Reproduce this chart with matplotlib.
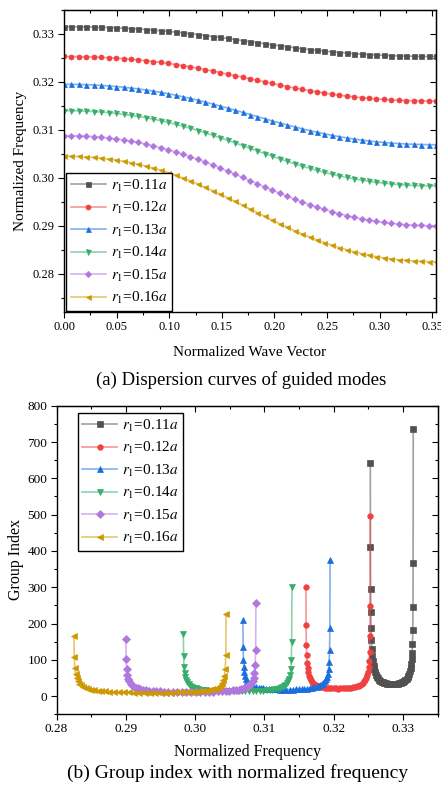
import numpy as np
import matplotlib
matplotlib.use("Agg")
import matplotlib.pyplot as plt
from matplotlib.ticker import MultipleLocator, FormatStrFormatter
from matplotlib.colors import to_rgba

plt.rcParams['font.family'] = 'serif'
plt.rcParams['font.serif'] = ['Liberation Serif', 'DejaVu Serif']
plt.rcParams['mathtext.fontset'] = 'stix'

# ---------------- data ----------------
labels = [r'$r_1$=0.11$a$', r'$r_1$=0.12$a$', r'$r_1$=0.13$a$',
          r'$r_1$=0.14$a$', r'$r_1$=0.15$a$', r'$r_1$=0.16$a$']
colors = ['#515151', '#F14040', '#1A6FDF', '#37AD6B', '#B177DE', '#CC9900']
markers = ['s', 'o', '^', 'v', 'D', '<']

# normalized wave vector (51 points)
wave_vector = [0.0, 0.00707, 0.01414, 0.02121, 0.02828, 0.03536, 0.04243, 0.0495, 0.05657, 0.06364,
               0.07071, 0.07778, 0.08485, 0.09192, 0.09899, 0.10607, 0.11314, 0.12021, 0.12728, 0.13435,
               0.14142, 0.14849, 0.15556, 0.16263, 0.1697, 0.17678, 0.18385, 0.19092, 0.19799, 0.20506,
               0.21213, 0.2192, 0.22627, 0.23334, 0.24042, 0.24749, 0.25456, 0.26163, 0.2687, 0.27577,
               0.28284, 0.28991, 0.29698, 0.30406, 0.31113, 0.3182, 0.32527, 0.33234, 0.33941, 0.34648,
               0.35355]

freq_r11 = [0.33150, 0.33150, 0.33148, 0.33146, 0.33143, 0.33139, 0.33133, 0.33127, 0.33120, 0.33112,
            0.33102, 0.33092, 0.33080, 0.33067, 0.33053, 0.33038, 0.33022, 0.33005, 0.32986, 0.32967,
            0.32947, 0.32927, 0.32906, 0.32884, 0.32862, 0.32840, 0.32818, 0.32796, 0.32774, 0.32753,
            0.32733, 0.32713, 0.32694, 0.32675, 0.32658, 0.32642, 0.32627, 0.32613, 0.32600, 0.32588,
            0.32578, 0.32568, 0.32560, 0.32553, 0.32547, 0.32541, 0.32537, 0.32534, 0.32532, 0.32530,
            0.32530]
freq_r12 = [0.32530, 0.32529, 0.32527, 0.32524, 0.32519, 0.32513, 0.32505, 0.32496, 0.32485, 0.32473,
            0.32459, 0.32443, 0.32425, 0.32406, 0.32385, 0.32362, 0.32338, 0.32312, 0.32285, 0.32256,
            0.32226, 0.32195, 0.32163, 0.32131, 0.32098, 0.32065, 0.32032, 0.31999, 0.31967, 0.31935,
            0.31904, 0.31874, 0.31845, 0.31818, 0.31792, 0.31768, 0.31745, 0.31724, 0.31705, 0.31687,
            0.31671, 0.31657, 0.31645, 0.31634, 0.31625, 0.31617, 0.31611, 0.31606, 0.31603, 0.31601,
            0.31600]
freq_r13 = [0.31950, 0.31949, 0.31946, 0.31942, 0.31935, 0.31927, 0.31916, 0.31904, 0.31889, 0.31872,
            0.31853, 0.31832, 0.31808, 0.31782, 0.31754, 0.31723, 0.31690, 0.31655, 0.31618, 0.31579,
            0.31538, 0.31496, 0.31453, 0.31409, 0.31365, 0.31320, 0.31275, 0.31231, 0.31187, 0.31144,
            0.31102, 0.31061, 0.31022, 0.30985, 0.30950, 0.30917, 0.30886, 0.30858, 0.30832, 0.30808,
            0.30787, 0.30768, 0.30751, 0.30736, 0.30724, 0.30713, 0.30705, 0.30698, 0.30694, 0.30691,
            0.30690]
freq_r14 = [0.31400, 0.31399, 0.31395, 0.31390, 0.31382, 0.31371, 0.31358, 0.31343, 0.31324, 0.31303,
            0.31280, 0.31253, 0.31223, 0.31191, 0.31155, 0.31117, 0.31076, 0.31032, 0.30986, 0.30937,
            0.30887, 0.30835, 0.30781, 0.30726, 0.30671, 0.30615, 0.30559, 0.30504, 0.30449, 0.30395,
            0.30343, 0.30293, 0.30244, 0.30198, 0.30154, 0.30113, 0.30075, 0.30039, 0.30007, 0.29977,
            0.29950, 0.29927, 0.29906, 0.29887, 0.29872, 0.29859, 0.29848, 0.29840, 0.29835, 0.29831,
            0.29830]
freq_r15 = [0.30880, 0.30879, 0.30875, 0.30868, 0.30858, 0.30845, 0.30830, 0.30811, 0.30789, 0.30764,
            0.30736, 0.30704, 0.30668, 0.30629, 0.30587, 0.30541, 0.30492, 0.30440, 0.30384, 0.30326,
            0.30266, 0.30203, 0.30139, 0.30073, 0.30007, 0.29940, 0.29873, 0.29807, 0.29741, 0.29677,
            0.29614, 0.29554, 0.29496, 0.29440, 0.29388, 0.29339, 0.29293, 0.29251, 0.29212, 0.29176,
            0.29144, 0.29116, 0.29091, 0.29069, 0.29050, 0.29035, 0.29022, 0.29012, 0.29005, 0.29001,
            0.29000]
freq_r16 = [0.30450, 0.30448, 0.30444, 0.30436, 0.30424, 0.30410, 0.30391, 0.30370, 0.30344, 0.30315,
            0.30281, 0.30244, 0.30202, 0.30157, 0.30107, 0.30053, 0.29996, 0.29935, 0.29870, 0.29802,
            0.29731, 0.29658, 0.29583, 0.29506, 0.29428, 0.29350, 0.29272, 0.29194, 0.29117, 0.29042,
            0.28969, 0.28898, 0.28830, 0.28765, 0.28704, 0.28647, 0.28593, 0.28543, 0.28498, 0.28456,
            0.28419, 0.28385, 0.28356, 0.28330, 0.28309, 0.28290, 0.28276, 0.28264, 0.28256, 0.28252,
            0.28250]

# group index at the interior k points (points 2..50 of each curve)
ng_r11 = [735, 367.6, 244.4, 182.4, 144.9, 119.7, 101.7, 88.0, 77.5, 69.2, 62.3, 56.7, 52.2, 48.3, 45.1,
          42.5, 40.2, 38.4, 36.9, 35.6, 34.6, 33.9, 33.4, 33.1, 33.0,
          33.1, 33.5, 34.2, 35.2, 36.5, 38.2, 40.3, 42.7, 45.8, 49.4, 53.7, 59.1, 65.8, 73.7, 83.5,
          95.6, 110.8, 130.3, 154.6, 188.0, 230.6, 294.4, 410.0, 641]
ng_r12 = [497, 247.9, 164.3, 122.3, 96.9, 79.8, 67.6, 58.3, 51.2, 45.5, 40.9, 37.1, 34.0, 31.4, 29.2,
          27.4, 25.9, 24.6, 23.6, 22.8, 22.1, 21.6, 21.3, 21.1, 21.0,
          21.1, 21.3, 21.6, 22.0, 22.6, 23.4, 24.4, 25.5, 26.9, 28.6, 30.5, 33.0, 36.1, 39.8, 44.2,
          49.8, 56.8, 65.8, 77.0, 92.4, 112.0, 141.4, 194.6, 301]
ng_r13 = [376, 188.6, 125.8, 94.2, 75.1, 62.2, 53.0, 46.1, 40.7, 36.4, 33.0, 30.1, 27.8, 25.8, 24.2,
          22.8, 21.7, 20.7, 20.0, 19.3, 18.8, 18.5, 18.2, 18.1, 18.0,
          18.0, 18.2, 18.4, 18.7, 19.1, 19.6, 20.3, 21.1, 22.0, 23.2, 24.5, 26.2, 28.3, 30.8, 33.9,
          37.7, 42.4, 48.6, 56.2, 66.7, 80.1, 100.1, 136.4, 209]
ng_r14 = [301, 150.3, 99.7, 74.3, 58.9, 48.6, 41.2, 35.6, 31.3, 27.8, 25.0, 22.7, 20.9, 19.3, 18.0,
          16.9, 16.0, 15.2, 14.6, 14.1, 13.7, 13.4, 13.2, 13.0, 13.0,
          13.0, 13.1, 13.3, 13.6, 13.9, 14.3, 14.9, 15.5, 16.3, 17.2, 18.3, 19.8, 21.5, 23.5, 26.0,
          29.2, 33.1, 38.1, 44.4, 53.0, 64.0, 80.5, 110.3, 170]
ng_r15 = [256, 128.0, 85.1, 63.5, 50.5, 41.7, 35.4, 30.7, 27.0, 24.1, 21.7, 19.8, 18.2, 16.8, 15.7,
          14.8, 14.0, 13.4, 12.8, 12.4, 12.1, 11.8, 11.6, 11.5, 11.5,
          11.5, 11.6, 11.8, 12.0, 12.3, 12.7, 13.2, 13.8, 14.6, 15.4, 16.4, 17.8, 19.4, 21.2, 23.6,
          26.5, 30.1, 34.8, 40.6, 48.6, 58.8, 74.1, 101.7, 157]
ng_r16 = [225, 112.2, 74.4, 55.4, 43.9, 36.1, 30.6, 26.4, 23.2, 20.6, 18.5, 16.8, 15.4, 14.2, 13.2,
          12.4, 11.7, 11.2, 10.7, 10.3, 10.0, 9.8, 9.6, 9.5, 9.5,
          9.5, 9.6, 9.8, 10.1, 10.4, 10.8, 11.4, 12.0, 12.8, 13.8, 14.9, 16.3, 18.0, 20.1, 22.6,
          25.7, 29.7, 34.7, 41.0, 49.7, 60.7, 77.2, 107.2, 167]

freqs = [freq_r11, freq_r12, freq_r13, freq_r14, freq_r15, freq_r16]
group_idx = [ng_r11, ng_r12, ng_r13, ng_r14, ng_r15, ng_r16]

# ---------------- figure ----------------
W, H = 441, 785
fig = plt.figure(figsize=(W / 100, H / 100), dpi=100)


def style_axes(ax, xmaj, xmin, ymaj, ymin, xfmt, yfmt, lsize):
    ax.xaxis.set_major_locator(MultipleLocator(xmaj))
    ax.xaxis.set_minor_locator(MultipleLocator(xmin))
    ax.yaxis.set_major_locator(MultipleLocator(ymaj))
    ax.yaxis.set_minor_locator(MultipleLocator(ymin))
    ax.xaxis.set_major_formatter(FormatStrFormatter(xfmt))
    ax.yaxis.set_major_formatter(FormatStrFormatter(yfmt))
    ax.tick_params(which='both', direction='out', top=False, right=False,
                   labelsize=lsize, width=0.8, pad=2.5)
    ax.tick_params(which='major', length=4)
    ax.tick_params(which='minor', length=2.2)
    for sp in ax.spines.values():
        sp.set_linewidth(1.0)
    sx = ax.secondary_xaxis('top')
    sx.xaxis.set_major_locator(MultipleLocator(xmaj))
    sx.xaxis.set_minor_locator(MultipleLocator(xmin))
    sx.tick_params(which='both', direction='in', labeltop=False, width=0.8)
    sx.tick_params(which='major', length=4)
    sx.tick_params(which='minor', length=2.2)
    sy = ax.secondary_yaxis('right')
    sy.yaxis.set_major_locator(MultipleLocator(ymaj))
    sy.yaxis.set_minor_locator(MultipleLocator(ymin))
    sy.tick_params(which='both', direction='in', labelright=False, width=0.8)
    sy.tick_params(which='major', length=4)
    sy.tick_params(which='minor', length=2.2)


def add_legend(ax, **kw):
    leg = ax.legend(fontsize=11, frameon=True, fancybox=False, edgecolor='black',
                    framealpha=1, handlelength=2.3, handletextpad=0.3,
                    labelspacing=0.42, borderpad=0.3, borderaxespad=0, **kw)
    leg.get_frame().set_linewidth(1.0)
    return leg


# ---- (a) dispersion curves ----
ax1 = fig.add_axes([64 / W, 1 - 312 / H, 372 / W, 302 / H])
for f, c, m, lab in zip(freqs, colors, markers, labels):
    ax1.plot(wave_vector, f, color=to_rgba(c, 0.55), lw=1.2, marker=m,
             ms=3.6 if m != 'D' else 3.2, mfc=c, mec=c, mew=0.5, label=lab)
ax1.set_xlim(0, 0.35355)
ax1.set_ylim(0.272, 0.335)
style_axes(ax1, 0.05, 0.025, 0.01, 0.005, '%.2f', '%.2f', 9)
ax1.set_xlabel('Normalized Wave Vector', fontsize=11, va='center')
ax1.xaxis.set_label_coords(0.5, -0.1325)
ax1.set_ylabel('Normalized Frequency', fontsize=11, va='center')
ax1.yaxis.set_label_coords(-0.118, 0.5)
add_legend(ax1, loc='lower left', bbox_to_anchor=(0.006, 0.004))
fig.text(241 / W, 1 - 380 / H, '(a) Dispersion curves of guided modes',
         ha='center', va='center', fontsize=13.5)

# ---- (b) group index ----
ax2 = fig.add_axes([56.5 / W, 1 - 714.3 / H, 381 / W, 308.6 / H])
for f, g, c, m, lab in zip(freqs, group_idx, colors, markers, labels):
    ax2.plot(f[1:50], g, color=to_rgba(c, 0.55), lw=1.2, marker=m,
             ms=4.0 if m != 'D' else 3.6, mfc=c, mec=c, mew=0.5, label=lab)
ax2.set_xlim(0.28, 0.335)
ax2.set_ylim(-50, 800)
style_axes(ax2, 0.01, 0.005, 100, 50, '%.2f', '%d', 9.5)
ax2.set_xlabel('Normalized Frequency', fontsize=11.5, va='center')
ax2.xaxis.set_label_coords(0.5, -0.121)
ax2.set_ylabel('Group Index', fontsize=11.5, va='center')
ax2.yaxis.set_label_coords(-0.106, 0.5)
add_legend(ax2, loc='upper left', bbox_to_anchor=(0.0556, 0.9763))
fig.text(238 / W, 1 - 773.3 / H, '(b) Group index with normalized frequency',
         ha='center', va='center', fontsize=14)

fig.savefig('out.png', dpi=100)
